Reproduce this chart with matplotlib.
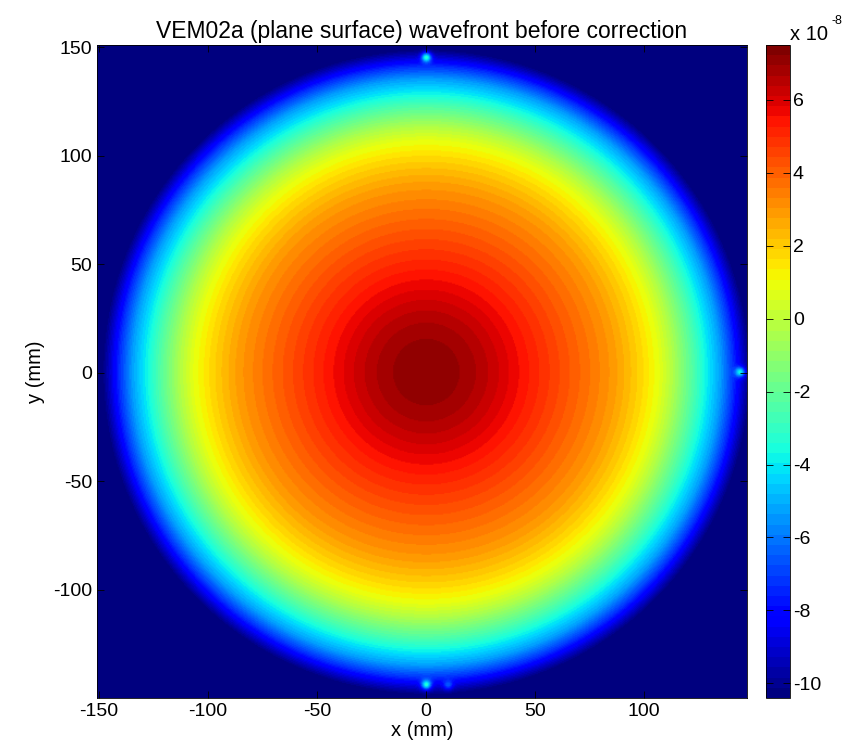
import numpy as np
import matplotlib
import matplotlib.pyplot as plt

plt.rcParams['font.family'] = ['Liberation Sans', 'DejaVu Sans']
plt.rcParams['axes.unicode_minus'] = False

# radial wavefront profile (mm, units of 1e-8)
radius = [0, 10, 20, 30, 50, 65, 75, 86, 95, 100, 107, 113, 118, 123, 128, 135, 141, 145, 148, 149.5]
height = [7.2, 7.1, 6.8, 6.3, 5.1, 4.2, 3.6, 2.9, 2.1, 1.6, 0.8, -0.3, -1.4, -2.5, -3.7, -5.3, -7.3, -9.0, -10.1, -10.4]

# small bright artefacts on the rim: x, y (mm), level (1e-8)
spot_x = [0, 0, 10, 144]
spot_y = [145, -144, -144, 0]
spot_val = [-3.2, -3.4, -6.5, -3.6]

vmin, vmax = -10.4, 7.5
x_lim = (-151, 147.5)
y_lim = (-150, 151)

xs = np.arange(x_lim[0], x_lim[1], 0.5)
ys = np.arange(y_lim[0], y_lim[1], 0.5)
X, Y = np.meshgrid(xs, ys)
R = np.hypot(X, Y)
Z = np.interp(R, radius, height, right=vmin)
for sx, sy, sv in zip(spot_x, spot_y, spot_val):
    g = np.exp(-((X - sx) ** 2 + (Y - sy) ** 2) / (2 * 1.6 ** 2))
    Z = np.maximum(Z, Z + (sv - Z) * g)

cmap = matplotlib.colormaps['jet'].resampled(64)

fig = plt.figure(figsize=(8.56, 7.55), dpi=100)
ax = fig.add_axes([97 / 856, 57 / 755, 650 / 856, 653 / 755])
im = ax.imshow(Z, extent=[x_lim[0], x_lim[1], y_lim[0], y_lim[1]], origin='lower',
               cmap=cmap, vmin=vmin, vmax=vmax, aspect='auto', interpolation='bilinear')
ax.set_xlim(x_lim)
ax.set_ylim(y_lim)
ax.set_xticks([-150, -100, -50, 0, 50, 100])
ax.set_yticks([-100, -50, 0, 50, 100, 150])
ax.tick_params(direction='in', length=5, labelsize=14, top=True, right=True, width=0.6)
ax.set_xlabel('x (mm)', fontsize=14.5, labelpad=1)
ax.set_ylabel('y (mm)', fontsize=14.5, labelpad=6)
ax.set_title('VEM02a (plane surface) wavefront before correction', fontsize=16.5, pad=5)
for s in ax.spines.values():
    s.set_linewidth(0.6)

cax = fig.add_axes([766 / 856, 57 / 755, 24 / 856, 653 / 755])
cb = fig.colorbar(im, cax=cax)
cb.set_ticks([-10, -8, -6, -4, -2, 0, 2, 4, 6])
cb.ax.tick_params(direction='in', length=5, labelsize=14, left=True, right=True, width=0.6, pad=2)
cb.outline.set_linewidth(0.6)

# exponent label above the colorbar
fig.text(790 / 856, 1 - 34 / 755, 'x 10', fontsize=14.5, ha='left', va='center')
fig.text(832 / 856, 1 - 21 / 755, '-8', fontsize=9, ha='left', va='center')

fig.savefig('out.png', dpi=100)
